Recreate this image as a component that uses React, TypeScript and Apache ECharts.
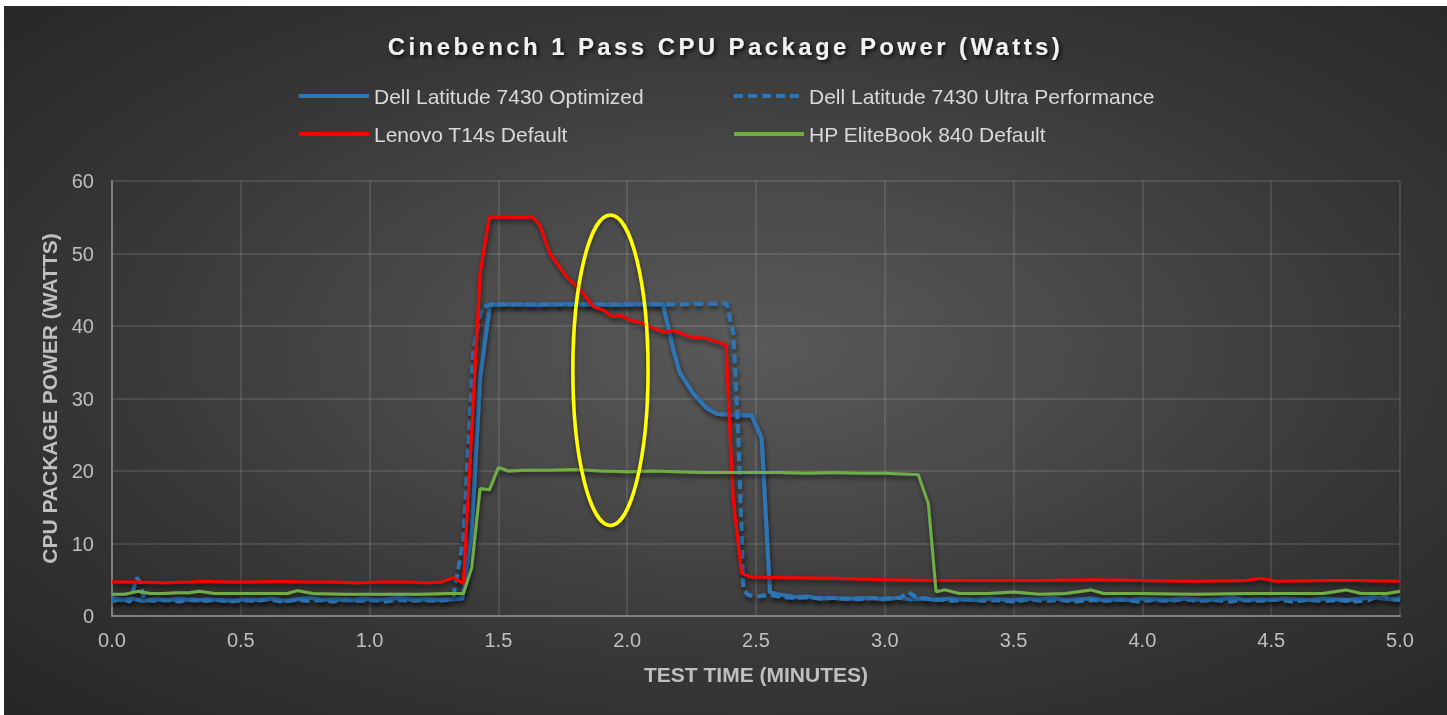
import React, { useEffect, useRef } from "react";
import * as echarts from "echarts";

const TITLE = "Cinebench 1 Pass CPU Package Power (Watts)";
const X_NAME = "TEST TIME (MINUTES)";
const Y_NAME = "CPU PACKAGE POWER (WATTS)";
const NAMES = [
  "Dell Latitude 7430 Optimized",
  "Dell Latitude 7430 Ultra Performance",
  "Lenovo T14s Default",
  "HP EliteBook 840 Default",
];
const X_MIN = 0;
const X_MAX = 5;
const X_STEP = 0.5;
const Y_MIN = 0;
const Y_MAX = 60;
const Y_STEP = 10;

// [minutes, watts]
const dellOptimized: [number, number][] = [
  [0, 2.5], [0.04, 2.2], [0.08, 2.4], [0.12, 2.1], [0.17, 2.3], [0.22, 2.2], [0.27, 2.4], [0.32, 2.1],
  [0.37, 2.3], [0.42, 2.2], [0.47, 2.1], [0.52, 2.3], [0.57, 2.2], [0.62, 2.4], [0.67, 2.1], [0.72, 2.3],
  [0.77, 2.5], [0.82, 2.2], [0.87, 2.3], [0.92, 2.1], [0.97, 2.4], [1.02, 2.2], [1.07, 2.3], [1.12, 2.5],
  [1.17, 2.2], [1.22, 2.3], [1.27, 2.2], [1.32, 2.3], [1.36, 2.4], [1.396, 11.4], [1.429, 33.0],
  [1.467, 42.9], [1.55, 43.0], [1.65, 42.9], [1.75, 43.0], [1.85, 43.0], [1.95, 42.9], [2.05, 43.0],
  [2.139, 43.0], [2.179, 36.7], [2.205, 33.5], [2.256, 30.7], [2.308, 28.7], [2.347, 27.9], [2.42, 27.7],
  [2.483, 27.7], [2.522, 24.5], [2.554, 3.3], [2.58, 3.0], [2.62, 2.8], [2.66, 2.6], [2.7, 2.7],
  [2.75, 2.4], [2.8, 2.5], [2.85, 2.3], [2.9, 2.5], [2.95, 2.4], [3.0, 2.3], [3.05, 2.5], [3.1, 2.3],
  [3.15, 2.4], [3.2, 2.2], [3.25, 2.4], [3.3, 2.3], [3.35, 2.2], [3.4, 2.4], [3.45, 2.3], [3.5, 2.2],
  [3.55, 2.4], [3.6, 2.3], [3.65, 2.5], [3.7, 2.2], [3.75, 2.3], [3.8, 2.4], [3.85, 2.2], [3.9, 2.3],
  [3.95, 2.2], [4.0, 2.4], [4.05, 2.3], [4.1, 2.2], [4.15, 2.4], [4.2, 2.3], [4.25, 2.2], [4.3, 2.3],
  [4.35, 2.5], [4.4, 2.2], [4.45, 2.3], [4.5, 2.2], [4.55, 2.4], [4.6, 2.3], [4.65, 2.2], [4.7, 2.4],
  [4.75, 2.3], [4.8, 2.2], [4.85, 2.4], [4.9, 2.6], [4.95, 2.3], [5.0, 2.4],
];

const dellUltra: [number, number][] = [
  [0, 2.1], [0.04, 2.3], [0.07, 2.0], [0.096, 5.3], [0.11, 4.6], [0.125, 2.3], [0.16, 2.1], [0.21, 2.2],
  [0.26, 2.0], [0.31, 2.3], [0.36, 2.1], [0.41, 2.2], [0.46, 2.0], [0.51, 2.2], [0.56, 2.1], [0.61, 2.3],
  [0.66, 2.0], [0.71, 2.2], [0.76, 2.1], [0.81, 2.2], [0.86, 2.0], [0.91, 2.3], [0.96, 2.1], [1.01, 2.2],
  [1.06, 2.0], [1.11, 2.2], [1.16, 2.1], [1.21, 2.2], [1.26, 2.1], [1.3, 2.2], [1.325, 2.7],
  [1.364, 10.5], [1.403, 36.7], [1.435, 42.5], [1.47, 43.0], [1.6, 43.0], [1.8, 43.0], [2.0, 43.0],
  [2.2, 43.0], [2.386, 43.1], [2.412, 39.0], [2.431, 25.0], [2.451, 3.6], [2.47, 2.9], [2.5, 2.7],
  [2.55, 2.9], [2.6, 2.6], [2.65, 2.5], [2.7, 2.6], [2.75, 2.4], [2.8, 2.5], [2.85, 2.4], [2.9, 2.3],
  [2.95, 2.5], [3.0, 2.4], [3.06, 2.5], [3.09, 3.3], [3.12, 2.7], [3.16, 2.4], [3.2, 2.3], [3.26, 2.1],
  [3.32, 2.3], [3.38, 2.1], [3.44, 2.2], [3.5, 2.0], [3.56, 2.3], [3.62, 2.1], [3.68, 2.2], [3.74, 2.0],
  [3.8, 2.2], [3.86, 2.1], [3.92, 2.3], [3.98, 2.0], [4.04, 2.2], [4.1, 2.1], [4.16, 2.3], [4.22, 2.1],
  [4.28, 2.2], [4.34, 2.0], [4.4, 2.2], [4.46, 2.1], [4.52, 2.3], [4.58, 2.0], [4.64, 2.2], [4.7, 2.1],
  [4.76, 2.2], [4.82, 2.0], [4.88, 2.2], [4.93, 3.0], [4.96, 2.3], [5.0, 2.2],
];

const lenovo: [number, number][] = [
  [0, 4.7], [0.1, 4.7], [0.2, 4.6], [0.3, 4.7], [0.36, 4.8], [0.45, 4.7], [0.55, 4.7], [0.65, 4.8],
  [0.75, 4.7], [0.85, 4.7], [0.95, 4.6], [1.05, 4.7], [1.15, 4.7], [1.22, 4.6], [1.28, 4.7],
  [1.325, 5.3], [1.364, 4.5], [1.396, 25.2], [1.429, 47.3], [1.465, 55.0], [1.55, 55.0], [1.633, 55.0],
  [1.661, 53.9], [1.7, 50.0], [1.765, 46.8], [1.817, 45.0], [1.868, 42.7], [1.907, 42.2], [1.94, 41.3],
  [1.972, 41.5], [2.011, 40.8], [2.05, 40.5], [2.101, 39.7], [2.147, 39.1], [2.179, 39.4],
  [2.244, 38.5], [2.308, 38.3], [2.384, 37.4], [2.399, 25.2], [2.412, 16.0], [2.444, 5.9],
  [2.477, 5.4], [2.6, 5.3], [2.8, 5.2], [3.0, 5.0], [3.2, 4.9], [3.4, 4.9], [3.6, 4.9], [3.8, 5.0],
  [4.0, 4.9], [4.2, 4.8], [4.4, 4.9], [4.46, 5.2], [4.52, 4.8], [4.7, 4.9], [4.85, 4.9], [5.0, 4.8],
];

const hp: [number, number][] = [
  [0, 3.0], [0.05, 3.0], [0.1, 3.4], [0.15, 3.1], [0.2, 3.1], [0.25, 3.2], [0.3, 3.2], [0.34, 3.4],
  [0.4, 3.1], [0.5, 3.1], [0.6, 3.1], [0.68, 3.1], [0.72, 3.5], [0.78, 3.1], [0.9, 3.0], [1.0, 3.0],
  [1.1, 3.0], [1.2, 3.0], [1.3, 3.1], [1.364, 3.1], [1.396, 6.6], [1.429, 17.6], [1.465, 17.4],
  [1.5, 20.5], [1.539, 20.0], [1.6, 20.1], [1.7, 20.1], [1.8, 20.2], [1.9, 20.0], [2.0, 19.9],
  [2.1, 20.0], [2.2, 19.9], [2.3, 19.8], [2.4, 19.8], [2.5, 19.8], [2.6, 19.8], [2.7, 19.7],
  [2.8, 19.8], [2.9, 19.7], [3.0, 19.7], [3.13, 19.5], [3.169, 15.5], [3.199, 3.35], [3.234, 3.6],
  [3.29, 3.1], [3.4, 3.1], [3.5, 3.3], [3.6, 3.0], [3.7, 3.1], [3.8, 3.6], [3.85, 3.1], [4.0, 3.1],
  [4.2, 3.0], [4.4, 3.1], [4.6, 3.1], [4.7, 3.1], [4.79, 3.6], [4.85, 3.1], [4.95, 3.1], [5.0, 3.4],
];

// annotation ellipse in data units: centre (minutes, watts), radii
const HIGHLIGHT = { x: 1.935, y: 33.9, rx: 0.146, ry: 21.4 };

const FONT = "'Liberation Sans', Arial, sans-serif";
const SHADOW = { shadowColor: "rgba(0,0,0,0.65)", shadowBlur: 5, shadowOffsetX: 1, shadowOffsetY: 3 };

export default function App() {
  const ref = useRef<HTMLDivElement>(null);

  useEffect(() => {
    if (!ref.current) return;
    const chart = echarts.init(ref.current, null, { renderer: "svg" });
    const colors = ["#2E75B6", "#2E75B6", "#FF0000", "#70AD47"];
    const widths = [4, 4, 3, 3];
    const datas = [dellOptimized, dellUltra, lenovo, hp];
    const legendPos = [
      { left: 288, top: 73 },
      { left: 723, top: 73 },
      { left: 288, top: 111 },
      { left: 723, top: 111 },
    ];
    chart.setOption({
      animation: false,
      backgroundColor: "transparent",
      title: {
        text: TITLE,
        left: "center",
        top: 20,
        textStyle: {
          color: "#f2f2f2",
          fontFamily: FONT,
          fontWeight: "bold",
          fontSize: 24,
          lineHeight: 30,
          textShadowColor: "rgba(0,0,0,0.85)",
          textShadowBlur: 4,
          textShadowOffsetX: 2,
          textShadowOffsetY: 2,
        },
      },
      legend: NAMES.map((n, i) => ({
        data: [n],
        left: legendPos[i].left,
        top: legendPos[i].top,
        itemWidth: 70,
        itemHeight: 20,
        itemGap: 0,
        itemStyle: { opacity: 0 },
        lineStyle: { width: 4 },
        textStyle: { color: "#d9d9d9", fontFamily: FONT, fontSize: 21, lineHeight: 24 },
      })),
      grid: { left: 108, right: 47, top: 175, bottom: 99, containLabel: false },
      xAxis: {
        type: "value",
        min: X_MIN,
        max: X_MAX,
        interval: X_STEP,
        name: X_NAME,
        nameLocation: "middle",
        nameGap: 48,
        nameTextStyle: { color: "#bfbfbf", fontFamily: FONT, fontWeight: "bold", fontSize: 21 },
        axisLine: { show: true, lineStyle: { color: "#808080", width: 2 } },
        axisTick: { show: false },
        axisLabel: {
          color: "#bfbfbf",
          fontFamily: FONT,
          fontSize: 20,
          margin: 14,
          formatter: (v: number) => v.toFixed(1),
        },
        splitLine: { show: true, lineStyle: { color: "rgba(255,255,255,0.14)", width: 1.5 } },
      },
      yAxis: {
        type: "value",
        min: Y_MIN,
        max: Y_MAX,
        interval: Y_STEP,
        name: Y_NAME,
        nameLocation: "middle",
        nameRotate: 90,
        nameGap: 52,
        nameTextStyle: { color: "#bfbfbf", fontFamily: FONT, fontWeight: "bold", fontSize: 21 },
        axisLine: { show: true, lineStyle: { color: "#808080", width: 2 } },
        axisTick: { show: false },
        axisLabel: { color: "#bfbfbf", fontFamily: FONT, fontSize: 20, margin: 18 },
        splitLine: { show: true, lineStyle: { color: "rgba(255,255,255,0.14)", width: 1.5 } },
      },
      series: NAMES.map((n, i) => ({
        name: n,
        type: "line",
        data: datas[i],
        symbol: "none",
        showSymbol: false,
        itemStyle: { color: colors[i] },
        lineStyle: {
          color: colors[i],
          width: widths[i],
          type: i === 1 ? [9, 5] : "solid",
          ...SHADOW,
        },
        z: 2 + i,
      })),
    });

    const c = chart.convertToPixel({ gridIndex: 0 }, [HIGHLIGHT.x, HIGHLIGHT.y]) as number[];
    const e = chart.convertToPixel({ gridIndex: 0 }, [HIGHLIGHT.x + HIGHLIGHT.rx, HIGHLIGHT.y + HIGHLIGHT.ry]) as number[];
    chart.setOption({
      graphic: [
        {
          type: "ellipse",
          shape: { cx: c[0], cy: c[1], rx: Math.abs(e[0] - c[0]), ry: Math.abs(e[1] - c[1]) },
          style: { fill: "none", stroke: "#FFFF00", lineWidth: 3.5, shadowColor: "rgba(0,0,0,0.5)", shadowBlur: 4, shadowOffsetY: 2 },
          z: 100,
        },
      ],
    });

    const svg = ref.current.querySelector("svg");
    if (svg) {
      svg.querySelectorAll("text").forEach((t) => {
        if (t.textContent === TITLE) (t as SVGTextElement).style.letterSpacing = "3.4px";
      });
    }

    return () => chart.dispose();
  }, []);

  return (
    <div
      style={{
        position: "fixed",
        left: 4,
        top: 6,
        width: 1443,
        height: 709,
        background:
          "radial-gradient(ellipse farthest-corner at 52% 48%, #595959 0%, #4a4a4a 30%, #353535 65%, #262626 100%)",
      }}
    >
      <div ref={ref} style={{ width: 1443, height: 709 }} />
    </div>
  );
}
